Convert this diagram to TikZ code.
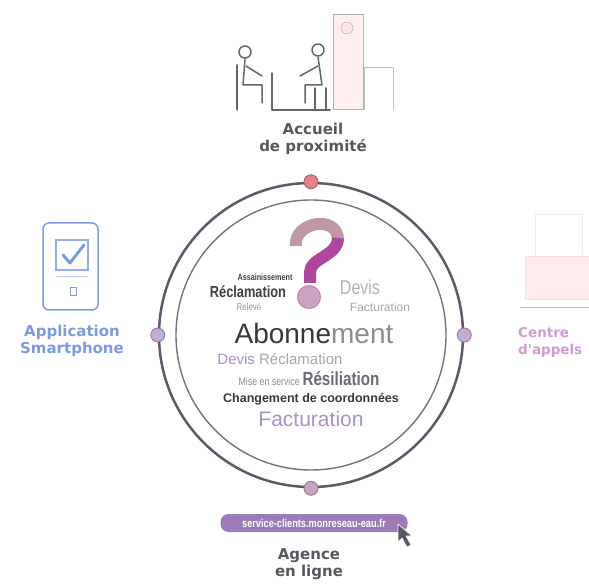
\documentclass[tikz,border=0pt]{standalone}
\usepackage{fontspec}
\setmainfont{Liberation Sans}
\newfontfamily\labelfont{DejaVu Sans}
\newfontfamily\narrowfont{Liberation Sans}[FakeStretch=0.8]
\usetikzlibrary{positioning, shapes.geometric}
\definecolor{ringgray}{HTML}{5E5868}
\definecolor{labelgray}{HTML}{5B5560}
\definecolor{phoneblue}{HTML}{7D9BE0}
\definecolor{callpink}{HTML}{D49AD0}
\definecolor{cloudpurple}{HTML}{A890C8}
\definecolor{qmark}{HTML}{B0479F}
\definecolor{pillpurple}{HTML}{9B7BB8}
\definecolor{dotred}{HTML}{E57F88}
\definecolor{dotlilac}{HTML}{C3ACD8}
\definecolor{dotmauve}{HTML}{C9A4C0}

\begin{document}
\begin{tikzpicture}[x=1pt, y=-1pt,
        channel/.style={font=\labelfont\bfseries\fontsize{15}{17}\selectfont, align=center, inner sep=0pt},
        ringdot/.style={circle, minimum size=14pt, inner sep=0pt, draw=#1!70!black, fill=#1, line width=0.8pt},
        word/.style={inner sep=0pt, anchor=center},
        icon/.style={draw=gray!80!black, line width=1.5pt, line cap=round, line join=round}]
  \useasboundingbox (0,0) rectangle (589,585);

  % ring with the four channels
  \node[circle, draw=ringgray, line width=2.5pt, minimum size=304pt] (ring) at (311,335) {};
  \node[circle, draw=ringgray!85, line width=1.4pt, minimum size=270pt] (inner) at (ring.center) {};
  \node[ringdot=dotred] (dtop) at (ring.north) {};
  \node[ringdot=dotlilac] (dleft) at (ring.west) {};
  \node[ringdot=dotlilac] (dright) at (ring.east) {};
  \node[ringdot=dotmauve] (dbottom) at (ring.south) {};

  % accueil
  \draw[draw=gray!60, fill=pink!25, line width=1pt] (333,15) rectangle (363,110);
  \node[circle, draw=gray!70, fill=pink!40, minimum size=12pt, inner sep=0pt] (knob) at (347,28) {};
  \draw[draw=gray!50, line width=0.8pt] (364,110) -- (364,67) -- (393,67) -- (393,110);
  \draw[icon] (272,73) -- (272,110) -- (330,110);
  \draw[icon] (245,52) circle (6);
  \draw[icon] (237,65) -- (237,110);
  \draw[icon] (245,59) -- (243,85) -- (262,85) -- (262,103);
  \draw[icon] (246,66) -- (262,76);
  \draw[icon] (318,50) circle (6);
  \draw[icon] (318,57) -- (322,85) -- (305,85) -- (305,103);
  \draw[icon] (318,66) -- (300,76);
  \draw[icon] (315,88) -- (315,110) (326,88) -- (326,110);
  \node[channel, text=labelgray] (accueil) at (313,139) {Accueil\\de proximité};

  % application
  \draw[draw=phoneblue, line width=1.5pt, rounded corners=6pt] (43,223) rectangle (98,310);
  \draw[draw=phoneblue!80, line width=1.2pt] (56,240) rectangle (88,270);
  \draw[draw=phoneblue, line width=3pt, line cap=round, line join=round] (63,255) -- (70,263) -- (84,245);
  \draw[draw=phoneblue!50, line width=1pt] (56,277) -- (88,277);
  \draw[draw=phoneblue, line width=1pt] (70,288) rectangle (76,296);
  \node[channel, text=phoneblue] (appli) at (72,341) {Application\\Smartphone};

  % centre d'appels
  \draw[draw=gray!15, line width=1pt] (535,215) rectangle (582,257);
  \draw[draw=pink!60, fill=pink!30, line width=1pt] (525,257) rectangle (595,300);
  \draw[draw=gray!50, line width=0.8pt] (520,307) -- (595,307);
  \node[channel, font=\labelfont\bfseries\fontsize{13.5}{17}\selectfont, text=callpink, anchor=west, align=left]
    (centre) at (518,342) {Centre\\d'appels};

  % agence en ligne
  \node[rectangle, rounded corners=8pt, fill=pillpurple, text=white, minimum width=187pt, minimum height=18pt,
        inner sep=0pt, font=\narrowfont\bfseries\fontsize{11.5}{11.5}\selectfont] (url) at (314,523) {service-clients.monreseau-eau.fr};
  \filldraw[fill=labelgray, draw=white, line width=0.6pt, line join=round]
    (398,524) -- (398,542) -- (402,538) -- (407,547) -- (411,545) -- (406,536) -- (412,536) -- cycle;
  \node[channel, text=labelgray] (agence) at (309,564) {Agence\\en ligne};

  % question mark
  \draw[line width=12pt, draw=purple!35!gray!60] (296,246) .. controls (293,222) and (338,214) .. (338,240);
  \draw[line width=12pt, draw=qmark] (338,238) .. controls (338,256) and (310,258) .. (310,272) -- (310,283);
  \node[circle, minimum size=23pt, inner sep=0pt, fill=dotmauve, draw=qmark!70, line width=1pt] (qdot) at (309,297) {};

  % word cloud
  \node[word, font=\narrowfont\bfseries\fontsize{9}{9}\selectfont, text=black!75] (assain) at (265,277) {Assainissement};
  \node[word, font=\narrowfont\bfseries\fontsize{16}{16}\selectfont, text=black!75] (reclam) at (248,292) {Réclamation};
  \node[word, font=\narrowfont\fontsize{10}{10}\selectfont, text=black!40] (releve) at (249,307) {Relevé};
  \node[word, font=\narrowfont\fontsize{20}{20}\selectfont, text=black!30] (devis) at (360,287) {Devis};
  \node[word, font=\fontsize{12}{12}\selectfont, text=black!35] (factpetit) at (380,307) {Facturation};
  \node[word, font=\fontsize{28}{28}\selectfont] (abonn) at (314,333) {\textcolor{black!78}{Abonne}\textcolor{black!45}{ment}};
  \node[word, font=\fontsize{15}{15}\selectfont] (devisrec) at (280,359) {\textcolor{cloudpurple}{Devis} \textcolor{black!35}{Réclamation}};
  \node[word] (resil) at (309,379) {\textcolor{black!45}{\narrowfont\fontsize{11}{11}\selectfont Mise en service}
    \textcolor{ringgray!90}{\narrowfont\bfseries\fontsize{19}{19}\selectfont Résiliation}};
  \node[word, font=\bfseries\fontsize{12.5}{12.5}\selectfont, text=black!78] (coord) at (311,399) {Changement de coordonnées};
  \node[word, font=\fontsize{21}{21}\selectfont, text=cloudpurple] (factgrand) at (311,419) {Facturation};
\end{tikzpicture}
\end{document}
